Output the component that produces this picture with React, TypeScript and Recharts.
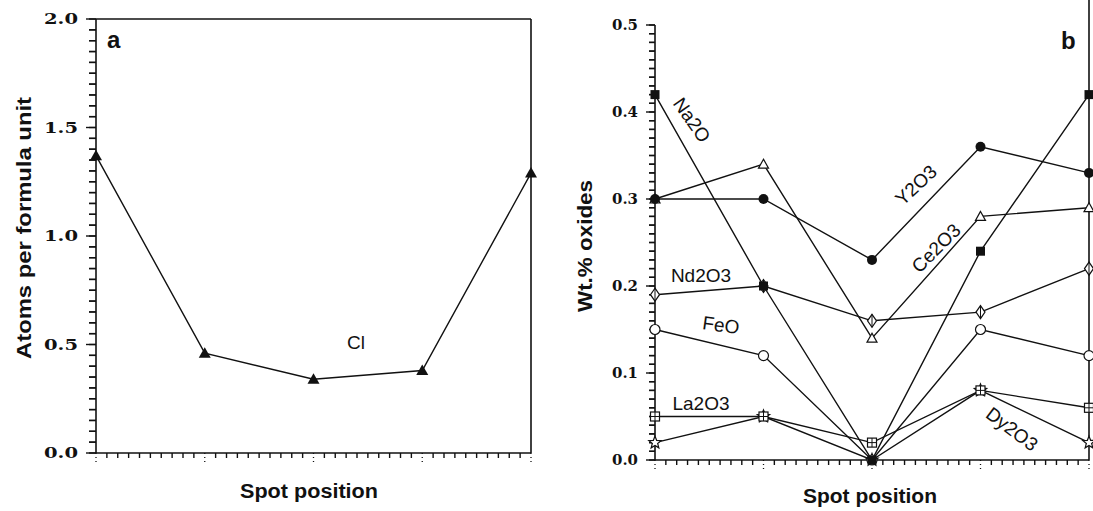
import { LineChart, Line, XAxis, YAxis, ReferenceLine } from "recharts";

// spot positions along the traverse
const spots = [1, 2, 3, 4, 5];

// panel a: Cl atoms per formula unit
const clAtoms = [1.37, 0.46, 0.34, 0.38, 1.29];

// panel b: wt.% oxides
const na2o = [0.42, 0.2, 0.0, 0.24, 0.42];
const y2o3 = [0.3, 0.3, 0.23, 0.36, 0.33];
const ce2o3 = [0.3, 0.34, 0.14, 0.28, 0.29];
const nd2o3 = [0.19, 0.2, 0.16, 0.17, 0.22];
const feo = [0.15, 0.12, 0.0, 0.15, 0.12];
const la2o3 = [0.05, 0.05, 0.02, 0.08, 0.06];
const dy2o3 = [0.02, 0.05, 0.0, 0.08, 0.02];

// axis ticks (major ticks carry labels, minor ones are only marks)
const leftYMajor = [0, 0.5, 1, 1.5, 2];
const rightYMajor = [0, 0.1, 0.2, 0.3, 0.4, 0.5];
const leftYTicks = Array.from({ length: 41 }, (_, i) => Math.round(i * 5) / 100);
const rightYTicks = Array.from({ length: 51 }, (_, i) => i / 100);
const xTicks = Array.from({ length: 41 }, (_, i) => 1 + i / 10);

const dataA = spots.map((x, i) => ({ x, cl: clAtoms[i] }));
const dataB = spots.map((x, i) => ({
  x,
  na2o: na2o[i],
  y2o3: y2o3[i],
  ce2o3: ce2o3[i],
  nd2o3: nd2o3[i],
  feo: feo[i],
  la2o3: la2o3[i],
  dy2o3: dy2o3[i],
}));

const INK = "#111";
const sans = "'Liberation Sans', Arial, sans-serif";
const serif = "'DejaVu Serif', serif";

const isMajor = (v: number, list: number[]) =>
  list.some((m) => Math.abs(m - v) < 1e-6);

// labels for the major y ticks
const makeYTick = (majors: number[], labelW: number, size: number) => (p: any) => {
  const v = Number(p.payload.value);
  if (!isMajor(v, majors)) return <g />;
  return (
    <text
      x={p.x - 11}
      y={p.y}
      dy="0.36em"
      textAnchor="end"
      fontFamily={serif}
      fontWeight="bold"
      fontSize={size}
      textLength={labelW}
      lengthAdjust="spacingAndGlyphs"
      fill={INK}
    >
      {v.toFixed(1)}
    </text>
  );
};

const XTick = (p: any) => {
  const v = Number(p.payload.value);
  const major = Math.abs(v - Math.round(v)) < 1e-6;
  return major ? (
    <path d={`M${p.x},${p.y}V${p.y + 12}`} stroke={INK} strokeWidth={1.3} strokeDasharray="1 3" fill="none" />
  ) : (
    <path d={`M${p.x},${p.y}V${p.y + 5}`} stroke={INK} strokeWidth={1.4} fill="none" />
  );
};

// y tick marks drawn as short segments left of the axis (lengths in x units)
const yTickMarks = (ticks: number[], majors: number[], minorLen: number, majorLen: number) =>
  ticks.map((v) => (
    <ReferenceLine
      key={`yt-${v}`}
      segment={[
        { x: 1 - (isMajor(v, majors) ? majorLen : minorLen), y: v },
        { x: 1, y: v },
      ]}
      ifOverflow="visible"
      stroke={INK}
      strokeWidth={1.4}
    />
  ));

// marker shapes
const FilledTriangle = ({ cx, cy }: any) => (
  <polygon points={`${cx},${cy - 6} ${cx - 6},${cy + 4.5} ${cx + 6},${cy + 4.5}`} fill={INK} />
);
const OpenTriangle = ({ cx, cy }: any) => (
  <polygon points={`${cx},${cy - 5} ${cx - 5},${cy + 4} ${cx + 5},${cy + 4}`} fill="#fff" stroke={INK} strokeWidth={1.2} />
);
const FilledSquare = ({ cx, cy }: any) => <rect x={cx - 4.5} y={cy - 4.5} width={9} height={9} fill={INK} />;
const FilledCircle = ({ cx, cy }: any) => <circle cx={cx} cy={cy} r={5} fill={INK} />;
const OpenCircle = ({ cx, cy }: any) => <circle cx={cx} cy={cy} r={5} fill="#fff" stroke={INK} strokeWidth={1.2} />;
const Diamond = ({ cx, cy }: any) => (
  <g>
    <polygon points={`${cx},${cy - 6.5} ${cx + 4.5},${cy} ${cx},${cy + 6.5} ${cx - 4.5},${cy}`} fill="#fff" stroke={INK} strokeWidth={1.2} />
    <line x1={cx} x2={cx} y1={cy - 6.5} y2={cy + 6.5} stroke={INK} strokeWidth={1} />
  </g>
);
const CrossSquare = ({ cx, cy }: any) => (
  <g>
    <rect x={cx - 4.5} y={cy - 4.5} width={9} height={9} fill="#fff" stroke={INK} strokeWidth={1.2} />
    <line x1={cx - 4.5} x2={cx + 4.5} y1={cy} y2={cy} stroke={INK} strokeWidth={1} />
    <line x1={cx} x2={cx} y1={cy - 4.5} y2={cy + 4.5} stroke={INK} strokeWidth={1} />
  </g>
);
const Star = ({ cx, cy }: any) => {
  const pts: string[] = [];
  for (let k = 0; k < 10; k++) {
    const r = k % 2 === 0 ? 6.5 : 2.8;
    const a = -Math.PI / 2 + (k * Math.PI) / 5;
    pts.push(`${cx + r * Math.cos(a)},${cy + r * Math.sin(a)}`);
  }
  return <polygon points={pts.join(" ")} fill="#fff" stroke={INK} strokeWidth={1.2} />;
};

const dotOf = (Shape: any) => (p: any) => <Shape key={p.index} cx={p.cx} cy={p.cy} />;

const lineProps = {
  type: "linear" as const,
  stroke: INK,
  strokeWidth: 1.4,
  isAnimationActive: false,
  activeDot: false as const,
};

const axisLine = { stroke: INK, strokeWidth: 1.6 };
const yTickLine = { stroke: INK, strokeWidth: 1.4 };

const Labels = () => (
  <svg width={1093} height={511} style={{ position: "absolute", left: 0, top: 0, pointerEvents: "none" }}>
    <g fontFamily={sans} fill={INK}>
      {/* panel letters */}
      <text x={107} y={48} fontSize={24} fontWeight="bold">a</text>
      <text x={1061} y={49} fontSize={24} fontWeight="bold">b</text>

      {/* axis titles */}
      <text transform="translate(31,228) rotate(-90)" textAnchor="middle" fontSize={20} fontWeight="bold" textLength={262} lengthAdjust="spacingAndGlyphs">
        Atoms per formula unit
      </text>
      <text x={309} y={498} textAnchor="middle" fontSize={20} fontWeight="bold" textLength={138} lengthAdjust="spacingAndGlyphs">
        Spot position
      </text>
      <text transform="translate(592,246) rotate(-90)" textAnchor="middle" fontSize={20} fontWeight="bold" textLength={132} lengthAdjust="spacingAndGlyphs">
        Wt.% oxides
      </text>
      <text x={870} y={503} textAnchor="middle" fontSize={20} fontWeight="bold" textLength={134} lengthAdjust="spacingAndGlyphs">
        Spot position
      </text>

      {/* series labels */}
      <text x={356} y={349} textAnchor="middle" fontSize={19}>Cl</text>
      <text transform="translate(692,120) rotate(55)" textAnchor="middle" dy="0.35em" fontSize={19}>Na2O</text>
      <text transform="translate(916,185) rotate(-43)" textAnchor="middle" dy="0.35em" fontSize={19}>Y2O3</text>
      <text transform="translate(936,248) rotate(-45)" textAnchor="middle" dy="0.35em" fontSize={19}>Ce2O3</text>
      <text x={701} y={282} textAnchor="middle" fontSize={19}>Nd2O3</text>
      <text transform="translate(721,325) rotate(8)" textAnchor="middle" dy="0.35em" fontSize={19}>FeO</text>
      <text x={701} y={410} textAnchor="middle" fontSize={19}>La2O3</text>
      <text transform="translate(1012,429) rotate(37)" textAnchor="middle" dy="0.35em" fontSize={19}>Dy2O3</text>
    </g>
  </svg>
);

export default function App() {
  return (
    <div style={{ position: "absolute", left: 0, top: 0, width: 1093, height: 511, background: "#fff" }}>
      <LineChart
        width={560}
        height={511}
        data={dataA}
        margin={{ top: 18, right: 28, bottom: 57, left: 95 }}
        style={{ position: "absolute", left: 0, top: 0 }}
      >
        <XAxis
          dataKey="x"
          type="number"
          domain={[1, 5]}
          ticks={xTicks}
          interval={0}
          height={1}
          tickSize={0}
          tickMargin={0}
          tick={XTick}
          axisLine={axisLine}
        />
        <XAxis xAxisId="top" orientation="top" dataKey="x" type="number" domain={[1, 5]} height={1} tick={false} tickLine={false} axisLine={axisLine} />
        <YAxis
          type="number"
          domain={[0, 2]}
          ticks={leftYTicks}
          interval={0}
          width={1}
          tickSize={7}
          tickMargin={0}
          tick={makeYTick(leftYMajor, 34, 15)}
          tickLine={yTickLine}
          axisLine={axisLine}
        />
        <YAxis yAxisId="right" orientation="right" type="number" domain={[0, 2]} width={1} tick={false} tickLine={false} axisLine={axisLine} />
        {yTickMarks(leftYTicks, leftYMajor, 0.064, 0.092)}
        <Line {...lineProps} dataKey="cl" dot={dotOf(FilledTriangle)} />
      </LineChart>

      <LineChart
        width={533}
        height={511}
        data={dataB}
        margin={{ top: 25, right: 4, bottom: 50, left: 94 }}
        style={{ position: "absolute", left: 560, top: 0 }}
      >
        <XAxis
          dataKey="x"
          type="number"
          domain={[1, 5]}
          ticks={xTicks}
          interval={0}
          height={1}
          tickSize={0}
          tickMargin={0}
          tick={XTick}
          axisLine={axisLine}
        />
        <YAxis
          type="number"
          domain={[0, 0.5]}
          ticks={rightYTicks}
          interval={0}
          width={1}
          tickSize={6}
          tickMargin={0}
          tick={makeYTick(rightYMajor, 26, 14)}
          tickLine={yTickLine}
          axisLine={axisLine}
        />
        <ReferenceLine
          segment={[{ x: 5, y: 0 }, { x: 5, y: 0.53 }]}
          ifOverflow="visible"
          stroke={INK}
          strokeWidth={1.6}
        />
        {yTickMarks(rightYTicks, rightYMajor, 0.055, 0.083)}
        <Line {...lineProps} dataKey="dy2o3" dot={dotOf(Star)} />
        <Line {...lineProps} dataKey="la2o3" dot={dotOf(CrossSquare)} />
        <Line {...lineProps} dataKey="feo" dot={dotOf(OpenCircle)} />
        <Line {...lineProps} dataKey="nd2o3" dot={dotOf(Diamond)} />
        <Line {...lineProps} dataKey="ce2o3" dot={dotOf(OpenTriangle)} />
        <Line {...lineProps} dataKey="y2o3" dot={dotOf(FilledCircle)} />
        <Line {...lineProps} dataKey="na2o" dot={dotOf(FilledSquare)} />
      </LineChart>

      <Labels />
    </div>
  );
}
